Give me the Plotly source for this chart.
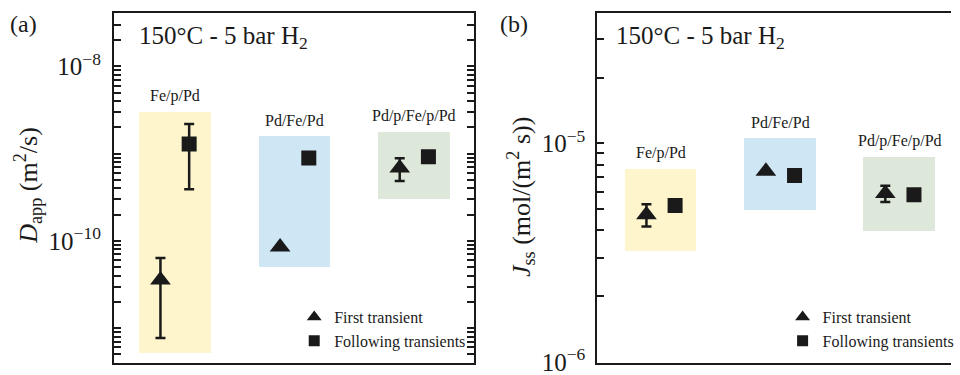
import numpy as np
import plotly.graph_objects as go

# ---------------- data ----------------
samples = ["Fe/p/Pd", "Pd/Fe/Pd", "Pd/p/Fe/p/Pd"]
sample_pos = [1, 2, 3]

# panel (a): apparent diffusivity D_app (m^2/s)
D_first = [3.57e-11, 8.5e-11, 6.87e-10]
D_first_err = [2.8e-11, 0.0, 2.0e-10]
D_follow = [1.29e-9, 8.9e-10, 9.2e-10]
D_follow_err = [0.9e-9, 0.0, 1.1e-10]
D_band_lo = [5.2e-12, 5.0e-11, 3.03e-10]
D_band_hi = [3.0e-9, 1.6e-9, 1.77e-9]

# panel (b): steady-state flux J_ss (mol/(m^2 s))
J_first = [4.72e-6, 7.45e-6, 5.9e-6]
J_first_err = [0.55e-6, 0.0, 0.5e-6]
J_follow = [5.2e-6, 7.13e-6, 5.83e-6]
J_follow_err = [0.0, 0.0, 0.0]
J_band_lo = [3.23e-6, 4.98e-6, 3.98e-6]
J_band_hi = [7.6e-6, 1.055e-5, 8.63e-6]

band_colors = ["#fff5cc", "#cfe6f4", "#dde8da"]

a_tickvals = [1e-10, 1e-8]
a_ticktext = ["10<sup>−10</sup>", "10<sup>−8</sup>"]
b_tickvals = [1e-6, 1e-5]
b_ticktext = ["10<sup>−6</sup>", "10<sup>−5</sup>"]

legend_names = ["First transient", "Following transients"]
title_text = "150°C - 5 bar H<sub>2</sub>"

# ---------------- style ----------------
FONT = "Liberation Serif, Times New Roman, serif"
INK = "#1a1a1a"
OFF = 0.12
BAND_W = 0.6

a_minor = [m * 10.0 ** e for e in range(-12, -7) for m in range(2, 10)] + [1e-11, 1e-9]
b_minor = [m * 10.0 ** e for e in range(-6, -4) for m in range(2, 10)]


def tick_arrays(major_vals, major_text, minor_vals):
    vals = sorted(set(major_vals) | set(minor_vals))
    text = []
    for v in vals:
        lab = ""
        for mv, mt in zip(major_vals, major_text):
            if abs(v - mv) / mv < 1e-9:
                lab = mt
        text.append(lab)
    return vals, text


a_vals, a_text = tick_arrays(a_tickvals, a_ticktext, a_minor)
b_vals, b_text = tick_arrays(b_tickvals, b_ticktext, b_minor)

fig = go.Figure()


def add_panel(xa, ya, lo, hi, first, first_err, follow, follow_err, legend):
    fig.add_trace(go.Bar(
        x=sample_pos, base=lo, y=[h - l for h, l in zip(hi, lo)], width=BAND_W,
        marker=dict(color=band_colors, line=dict(width=0)),
        xaxis=xa, yaxis=ya, showlegend=False, hoverinfo="skip"))
    fig.add_trace(go.Scatter(
        x=[p - OFF for p in sample_pos], y=first, mode="markers",
        marker=dict(symbol="triangle-up", size=18, color=INK),
        error_y=dict(type="data", array=first_err, color=INK, thickness=2.5, width=5),
        xaxis=xa, yaxis=ya, showlegend=False))
    fig.add_trace(go.Scatter(
        x=[p + OFF for p in sample_pos], y=follow, mode="markers",
        marker=dict(symbol="square", size=15, color=INK),
        error_y=dict(type="data", array=follow_err, color=INK, thickness=2.5, width=5),
        xaxis=xa, yaxis=ya, showlegend=False))
    # legend entries
    fig.add_trace(go.Scatter(x=[None], y=[None], mode="markers", name=legend_names[0],
                             marker=dict(symbol="triangle-up", size=13, color=INK),
                             xaxis=xa, yaxis=ya, legend=legend))
    fig.add_trace(go.Scatter(x=[None], y=[None], mode="markers", name=legend_names[1],
                             marker=dict(symbol="square", size=11, color=INK),
                             xaxis=xa, yaxis=ya, legend=legend))


add_panel("x", "y", D_band_lo, D_band_hi, D_first, D_first_err, D_follow, D_follow_err, "legend")
add_panel("x2", "y2", J_band_lo, J_band_hi, J_first, J_first_err, J_follow, J_follow_err, "legend2")

axis_common = dict(showline=True, linecolor=INK, linewidth=2, showgrid=False, zeroline=False)

fig.update_layout(
    width=960, height=375,
    margin=dict(l=0, r=0, t=0, b=0),
    paper_bgcolor="white", plot_bgcolor="white",
    font=dict(family=FONT, color=INK),
    bargap=0,
    xaxis=dict(domain=[115 / 960, 478 / 960], range=[0.491, 3.497], mirror=True,
               showticklabels=False, ticks="", **axis_common),
    yaxis=dict(type="log", domain=[12 / 375, 362 / 375], range=[-11.40, -7.387],
               mirror="ticks", ticks="inside", ticklen=7, tickwidth=1.5, tickcolor=INK,
               tickmode="array", tickvals=a_vals, ticktext=a_text, ticklabelstandoff=6,
               ticklabeloverflow="allow",
               tickfont=dict(size=25, family=FONT, color=INK), automargin=False,
               **axis_common),
    xaxis2=dict(domain=[603 / 960, 1.0], range=[0.469, 3.43], mirror=True,
                showticklabels=False, ticks="", anchor="y2", **axis_common),
    yaxis2=dict(type="log", domain=[12 / 375, 362 / 375], range=[-6.004, -4.404],
                anchor="x2", mirror=False, ticks="inside", ticklen=7, tickwidth=1.5,
                tickcolor=INK, tickmode="array", tickvals=b_vals, ticktext=b_text,
                ticklabelstandoff=5, ticklabeloverflow="allow",
                tickfont=dict(size=25, family=FONT, color=INK), automargin=False,
                **axis_common),
    legend=dict(x=(317 - 20) / 960, y=1 - 300 / 375, xanchor="left", yanchor="top",
                bgcolor="rgba(0,0,0,0)", font=dict(size=16, family=FONT, color=INK),
                itemsizing="trace", tracegroupgap=0),
    legend2=dict(x=(807 - 17) / 960, y=1 - 300 / 375, xanchor="left", yanchor="top",
                 bgcolor="rgba(0,0,0,0)", font=dict(size=16, family=FONT, color=INK),
                 itemsizing="trace", tracegroupgap=0),
)

ann = []
# sample labels above bands
for xa, ya, hi in (("x", "y", D_band_hi), ("x2", "y2", J_band_hi)):
    for p, name, h in zip(sample_pos, samples, hi):
        ann.append(dict(x=p, y=np.log10(h), xref=xa, yref=ya, text=name, showarrow=False,
                        xanchor="center", yanchor="bottom", yshift=5,
                        font=dict(size=16, family=FONT, color=INK)))
# panel titles / letters / axis titles
ann += [
    dict(x=138 / 960, y=1 - 38 / 375, xref="paper", yref="paper", text=title_text,
         showarrow=False, xanchor="left", yanchor="middle", font=dict(size=25, family=FONT, color=INK)),
    dict(x=620 / 960, y=1 - 38 / 375, xref="paper", yref="paper", text=title_text,
         showarrow=False, xanchor="left", yanchor="middle", font=dict(size=25, family=FONT, color=INK)),
    dict(x=8 / 960, y=1 - 24 / 375, xref="paper", yref="paper", text="(a)",
         showarrow=False, xanchor="left", yanchor="middle", font=dict(size=24, family=FONT, color=INK)),
    dict(x=503 / 960, y=1 - 24 / 375, xref="paper", yref="paper", text="(b)",
         showarrow=False, xanchor="left", yanchor="middle", font=dict(size=24, family=FONT, color=INK)),
    dict(x=28 / 960, y=1 - 185 / 375, xref="paper", yref="paper",
         text="<i>D</i><sub>app</sub> (m<sup>2</sup>/s)", textangle=-90,
         showarrow=False, xanchor="center", yanchor="middle", font=dict(size=26, family=FONT, color=INK)),
    dict(x=526 / 960, y=1 - 197 / 375, xref="paper", yref="paper",
         text="<i>J</i><sub>ss</sub> (mol/(m<sup>2</sup> s))", textangle=-90,
         showarrow=False, xanchor="center", yanchor="middle", font=dict(size=26, family=FONT, color=INK)),
]
fig.update_layout(annotations=ann)

fig.write_html("out.html", config={"displayModeBar": False},
               post_script="document.body.style.margin='0px';")
